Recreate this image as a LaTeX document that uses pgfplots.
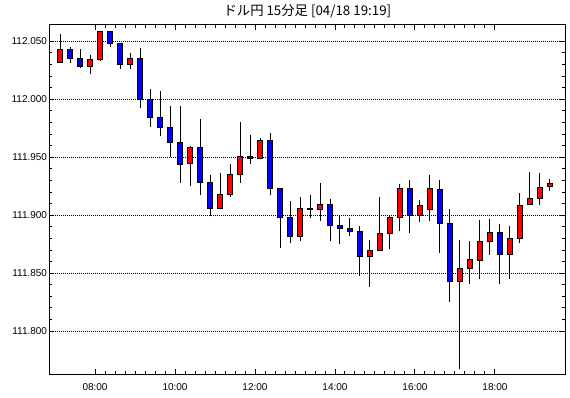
\documentclass[border=0pt]{standalone}
\usepackage{fontspec}
\setmainfont{Liberation Sans}
\newfontfamily\jp{Noto Sans CJK JP}
\usepackage{pgfplots}
\usepackage{pgfplotstable}
\pgfplotsset{compat=1.18}
\definecolor{upred}{RGB}{255,0,0}
\definecolor{downblue}{RGB}{0,0,255}

% 15-minute candles, 07:00 ... 19:15 (open high low close)
\pgfplotstableread{
idx O H L C
0 112.032 112.056 112.032 112.043
1 112.043 112.045 112.031 112.035
2 112.035 112.043 112.027 112.028
3 112.028 112.038 112.022 112.0345
4 112.034 112.059 112.033 112.058
5 112.058 112.059 112.045 112.048
6 112.048 112.048 112.026 112.030
7 112.030 112.040 112.026 112.035
8 112.035 112.044 111.9925 112.000
9 112.000 112.009 111.976 111.984
10 111.984 112.007 111.968 111.976
11 111.976 111.994 111.9505 111.963
12 111.963 111.994 111.928 111.944
13 111.945 111.960 111.925 111.958
14 111.958 111.983 111.917 111.928
15 111.928 111.935 111.899 111.906
16 111.906 111.936 111.905 111.918
17 111.918 111.944 111.916 111.935
18 111.935 111.980 111.928 111.951
19 111.951 111.969 111.944 111.949
20 111.949 111.967 111.949 111.964
21 111.964 111.971 111.917 111.923
22 111.923 111.923 111.872 111.898
23 111.898 111.912 111.876 111.882
24 111.882 111.9155 111.878 111.906
25 111.906 111.917 111.898 111.905
26 111.905 111.928 111.895 111.909
27 111.909 111.914 111.878 111.891
28 111.891 111.900 111.8755 111.8885
29 111.8888 111.898 111.882 111.886
30 111.886 111.891 111.848 111.864
31 111.864 111.879 111.838 111.870
32 111.870 111.9155 111.870 111.8845
33 111.8845 111.899 111.871 111.898
34 111.898 111.927 111.886 111.923
35 111.923 111.9305 111.885 111.900
36 111.900 111.913 111.8945 111.908
37 111.905 111.935 111.895 111.923
38 111.9225 111.930 111.867 111.893
39 111.893 111.905 111.825 111.843
40 111.843 111.879 111.767 111.854
41 111.854 111.878 111.841 111.8615
42 111.861 111.896 111.845 111.877
43 111.877 111.897 111.866 111.885
44 111.885 111.8925 111.841 111.866
45 111.866 111.8905 111.845 111.880
46 111.880 111.919 111.876 111.9086
47 111.909 111.937 111.909 111.914
48 111.914 111.936 111.909 111.924
49 111.925 111.931 111.921 111.927
}\candles

\begin{document}
\begin{tikzpicture}
\begin{axis}[
  scale only axis,
  width=387.15pt, height=262.2pt,
  xmin=6.8575, xmax=19.7625,
  ymin=111.7629, ymax=112.0643,
  axis line style={black, line width=0.75pt},
  xtick={8,10,12,14,16,18},
  xticklabels={08:00,10:00,12:00,14:00,16:00,18:00},
  minor x tick num=7,
  ytick={111.8,111.85,111.9,111.95,112.0,112.05},
  yticklabels={111.800,111.850,111.900,111.950,112.000,112.050},
  minor y tick num=4,
  tick align=inside,
  major tick length=3.75pt, minor tick length=2.25pt,
  every tick/.style={black, line width=0.75pt},
  ymajorgrids,
  major grid style={black, line width=0.75pt, dash pattern=on 0.75pt off 0.75pt},
  tick label style={font=\fontsize{7.5}{8}\selectfont},
  yticklabel style={inner sep=1.5pt},
  xticklabel style={inner sep=0pt, anchor=north, yshift=-6.6pt},
  title={\jp ドル円 15分足 [04/18 19:19]},
  title style={font=\fontsize{10}{12}\selectfont, at={(0.5,1)}, anchor=center, inner sep=0pt, yshift=4.3pt},
]
\coordinate (bl) at (rel axis cs:0,0);
\coordinate (tr) at (rel axis cs:1,1);
\pgfplotsinvokeforeach{0,...,49}{
  \pgfplotstablegetelem{#1}{O}\of\candles \edef\vo{\pgfplotsretval}
  \pgfplotstablegetelem{#1}{C}\of\candles \edef\vc{\pgfplotsretval}
  \pgfplotstablegetelem{#1}{H}\of\candles \edef\vh{\pgfplotsretval}
  \pgfplotstablegetelem{#1}{L}\of\candles \edef\vl{\pgfplotsretval}
  \ifdim\vc pt<\vo pt
    \edef\vlo{\vc}\edef\vhi{\vo}\def\vcol{downblue}
  \else
    \edef\vlo{\vo}\edef\vhi{\vc}\def\vcol{upred}
  \fi
  \pgfmathsetmacro\vpos{7.125+0.25*#1}
  \pgfmathsetmacro\xl{\vpos-0.065}
  \pgfmathsetmacro\xr{\vpos+0.065}
  \edef\doplot{%
    \noexpand\addplot[black, line width=0.75pt, mark=none, forget plot]
      coordinates {(\vpos,\vl) (\vpos,\vh)};
    \noexpand\addplot[draw=black, fill=\vcol, line width=0.75pt, mark=none,
      line cap=rect, line join=miter, forget plot]
      coordinates {(\xl,\vlo) (\xr,\vlo) (\xr,\vhi) (\xl,\vhi) (\xl,\vlo)};}
  \doplot
}
\end{axis}
\pgfresetboundingbox
\path ([shift={(-37pt,-17.8pt)}]bl) rectangle ([shift={(3.4pt,18.5pt)}]tr);
\end{tikzpicture}
\end{document}
